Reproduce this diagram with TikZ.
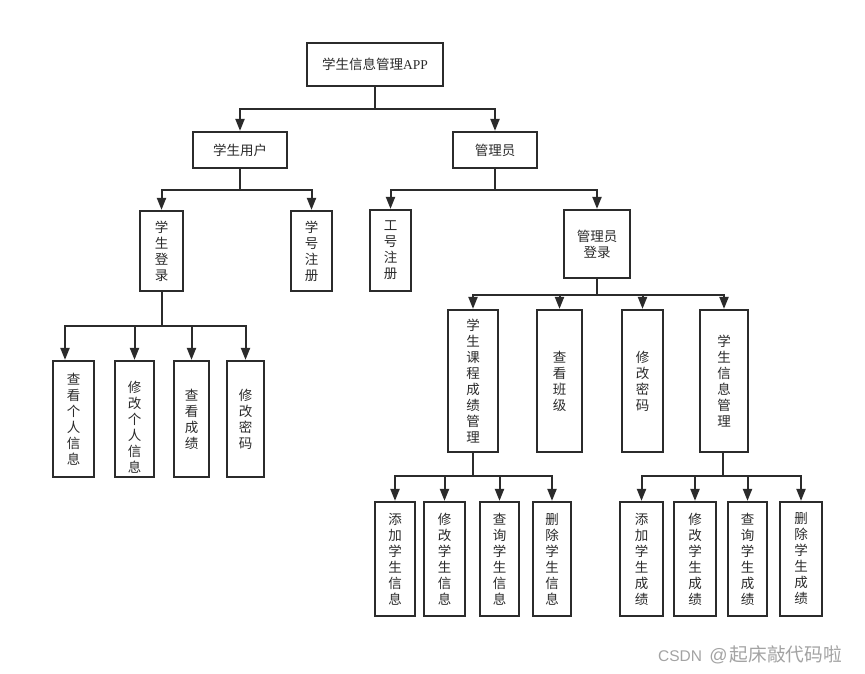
\documentclass[tikz,border=0pt]{standalone}
\usepackage{fontspec}
\newfontfamily\cjk{Noto Sans CJK SC}
\newfontfamily\lsans{Liberation Sans}
\newfontfamily\lserif{Liberation Serif}
\usetikzlibrary{arrows.meta}
\definecolor{ink}{HTML}{2B2B2B}
\definecolor{wm}{HTML}{A3A3A3}
\begin{document}
\begin{tikzpicture}[x=1pt,y=-1pt,
  box/.style={draw=ink,line width=2.2pt,fill=white,inner sep=0pt,align=center,
    text=ink,font=\cjk\fontsize{13.5}{16}\selectfont},
  conn/.style={draw=ink,line width=2pt},
  arr/.style={conn,-{Triangle[width=9pt,length=12pt]}},
  txt/.style={inner sep=0pt,align=center,text=ink,font=\cjk\fontsize{13.5}{16}\selectfont}]
\useasboundingbox[fill=white] (0,0) rectangle (865,674);
% level 0-1
\node[box,minimum width=136pt,minimum height=43pt] (top) at (375,64.5) {学生信息管理{\lserif APP}};
\node[box,minimum width=94pt,minimum height=36pt] (stu) at (240,150) {学生用户};
\node[box,minimum width=84pt,minimum height=36pt] (adm) at (495,150) {管理员};
% level 2
\node[box,minimum width=43pt,minimum height=80pt] (slogin) at (161.5,251) {学\\生\\登\\录};
\node[box,minimum width=41pt,minimum height=80pt] (sreg) at (311.5,251) {学\\号\\注\\册};
\node[box,minimum width=41pt,minimum height=81pt] (areg) at (390.5,250.5) {工\\号\\注\\册};
\node[box,minimum width=66pt,minimum height=68pt] (alogin) at (597,244) {管理员\\登录};
% student functions
\node[box,minimum width=41pt,minimum height=116pt] (s1) at (73.5,419) {查\\看\\个\\人\\信\\息};
\node[box,minimum width=39pt,minimum height=116pt] (s2) at (134.5,419) {};
\node[txt] (s2t) at (134.5,427) {修\\改\\个\\人\\信\\息};
\node[box,minimum width=35pt,minimum height=116pt] (s3) at (191.5,419) {查\\看\\成\\绩};
\node[box,minimum width=37pt,minimum height=116pt] (s4) at (245.5,419) {修\\改\\密\\码};
% admin functions
\node[box,minimum width=50pt,minimum height=142pt] (m1) at (473,381) {学\\生\\课\\程\\成\\绩\\管\\理};
\node[box,minimum width=45pt,minimum height=142pt] (m2) at (559.5,381) {查\\看\\班\\级};
\node[box,minimum width=41pt,minimum height=142pt] (m3) at (642.5,381) {修\\改\\密\\码};
\node[box,minimum width=48pt,minimum height=142pt] (m4) at (724,381) {学\\生\\信\\息\\管\\理};
% course grade management
\node[box,minimum width=40pt,minimum height=114pt] (b1) at (395,559) {添\\加\\学\\生\\信\\息};
\node[box,minimum width=41pt,minimum height=114pt] (b2) at (444.5,559) {修\\改\\学\\生\\信\\息};
\node[box,minimum width=39pt,minimum height=114pt] (b3) at (499.5,559) {查\\询\\学\\生\\信\\息};
\node[box,minimum width=38pt,minimum height=114pt] (b4) at (552,559) {删\\除\\学\\生\\信\\息};
% student info management
\node[box,minimum width=43pt,minimum height=114pt] (c1) at (641.5,559) {添\\加\\学\\生\\成\\绩};
\node[box,minimum width=42pt,minimum height=114pt] (c2) at (695,559) {修\\改\\学\\生\\成\\绩};
\node[box,minimum width=39pt,minimum height=114pt] (c3) at (747.5,559) {查\\询\\学\\生\\成\\绩};
\node[box,minimum width=42pt,minimum height=114pt] (c4) at (801,559) {删\\除\\学\\生\\成\\绩};
% bar levels
\coordinate (y0) at (0,109);
\coordinate (y1) at (0,190);
\coordinate (y2) at (0,189.5);
\coordinate (y3) at (0,326);
\coordinate (y4) at (0,294.5);
\coordinate (y5) at (0,476);
% connectors
\foreach \c in {stu,adm}
  \draw[arr] (top.south) -- (top.south |- y0) -| (\c.north);
\foreach \c in {slogin,sreg}
  \draw[arr] (stu.south) -- (stu.south |- y1) -| (\c.north);
\foreach \c in {areg,alogin}
  \draw[arr] (adm.south) -- (adm.south |- y2) -| (\c.north);
\coordinate (s1a) at ([xshift=-8.5pt]s1.north);
\draw[arr] (slogin.south) -- (slogin.south |- y3) -| (s1a);
\foreach \c in {s2,s3,s4}
  \draw[arr] (slogin.south) -- (slogin.south |- y3) -| (\c.north);
\foreach \c in {m1,m2,m3,m4}
  \draw[arr] (alogin.south) -- (alogin.south |- y4) -| (\c.north);
\foreach \c in {b1,b2,b3,b4}
  \draw[arr] (m1.south) -- (m1.south |- y5) -| (\c.north);
\coordinate (m4s) at ([xshift=-0.7pt]m4.south);
\foreach \c in {c1,c2,c3,c4}
  \draw[arr] (m4s) -- (m4s |- y5) -| (\c.north);
% watermark
\node[anchor=base west,inner sep=0pt,text=wm] (wmk) at (658,661)
  {{\lsans\fontsize{15.5}{18}\selectfont CSDN\hspace{3pt} {\fontsize{18}{18}\selectfont @}}\hspace{2pt}{\cjk\fontsize{18.7}{20}\selectfont 起床敲代码啦}};
\end{tikzpicture}
\end{document}
